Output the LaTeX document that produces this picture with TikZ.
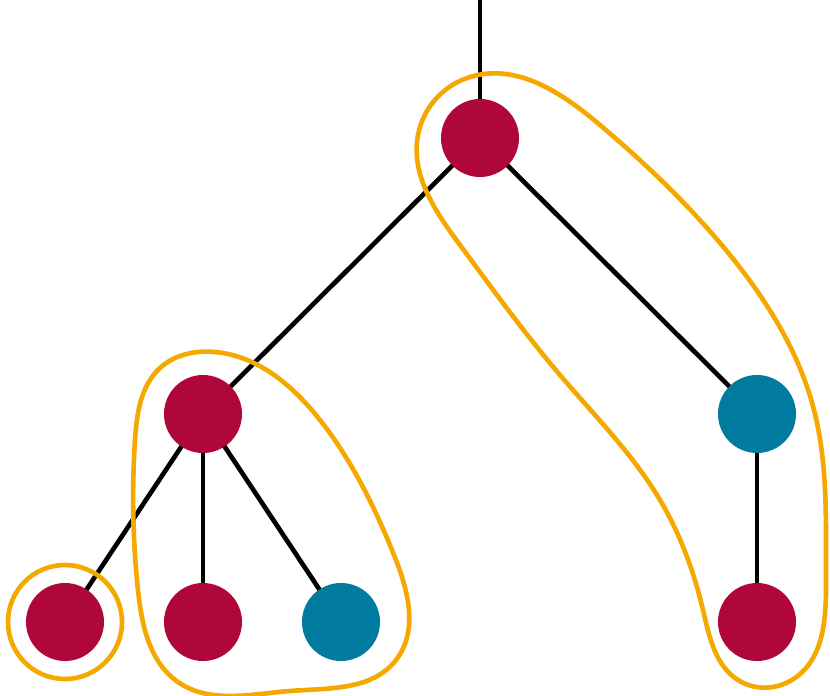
\documentclass[tikz,border=0pt]{standalone}
\usepackage{tikz}
\usetikzlibrary{positioning, hobby}

\definecolor{nodered}{HTML}{B0073A}
\definecolor{nodeteal}{HTML}{007A9E}
\definecolor{hullorange}{HTML}{F5A800}

\tikzset{
    vert/.style={circle, minimum size=1.95cm, inner sep=0pt},
    redvert/.style={vert, fill=nodered},
    tealvert/.style={vert, fill=nodeteal},
    edge/.style={line width=3.3pt, color=black},
    hull/.style={line width=3.3pt, color=hullorange, use Hobby shortcut, closed=true}
}

\begin{document}
\begin{tikzpicture}[x=0.025cm, y=-0.025cm]
    \useasboundingbox (0,0) rectangle (830,696);
    % place vertices
    \coordinate (top) at (480,0);
    \coordinate (root) at (480,138);
    \coordinate (left) at (203,414);
    \coordinate (right) at (757,414);
    \coordinate (leftA) at (65,622);
    \coordinate (leftB) at (203,622);
    \coordinate (leftC) at (341,622);
    \coordinate (rightA) at (757,622);
    % draw edges
    \draw[edge] (top) -- (root);
    \draw[edge] (root) -- (left);
    \draw[edge] (root) -- (right);
    \foreach \c in {leftA, leftB, leftC}
        \draw[edge] (left) -- (\c);
    \draw[edge] (right) -- (rightA);
    % draw vertices over edges
    \foreach \v in {root, left, leftA, leftB, rightA}
        \node[redvert] (\v-dot) at (\v) {};
    \foreach \v in {right, leftC}
        \node[tealvert] (\v-dot) at (\v) {};
    % draw hulls
    \draw[line width=3.3pt, color=hullorange] (leftA) circle (57);
    \draw[hull] (215,352) .. (320,420) .. (394,555) .. (396,660)
        .. (290,691) .. (178,682) .. (138,590) .. (135,440) .. (160,368);
    \draw[hull] (470,77) .. (600,125) .. (730,255) .. (814,410) .. (826,580)
        .. (795,678) .. (738,680) .. (703,610) .. (660,500) .. (560,375)
        .. (460,245) .. (418,135);
\end{tikzpicture}
\end{document}
